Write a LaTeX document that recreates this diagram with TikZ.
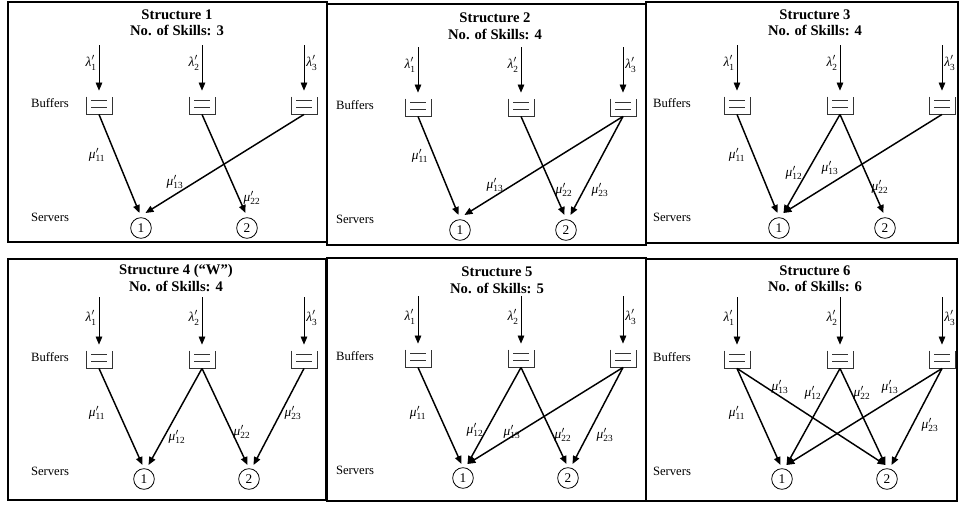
\documentclass[tikz,border=0pt]{standalone}
\usepackage{fontspec}
\setmainfont{Liberation Serif}
\usetikzlibrary{arrows.meta}

% rate labels such as lambda'_1 and mu'_11
\newcommand\rt[2]{$\mbox{\itshape #1}'_{\mbox{\fontsize{7}{8}\selectfont #2}}$}

% vertical layout of one row of panels (local pixel units, y downwards)
\newcommand\setrow[9]{%
  \def\lyA{#1}% arrival arrow top
  \def\lyL{#2}% arrival label
  \def\lyBT{#3}% buffer top
  \def\lyBB{#4}% buffer bottom
  \def\lyBL{#5}% "Buffers"
  \def\lySL{#6}% "Servers"
  \def\lyC{#7}% server centre
  \def\lyT{#8}% tip of service arrows
  \def\cxA{#9}}
\newcommand\cxsecond[1]{\def\cxB{#1}}

\tikzset{
  panel/.style={draw, line width=1.1pt},
  title/.style={font=\fontsize{11}{13}\selectfont\bfseries, inner sep=0pt},
  side/.style={font=\fontsize{9.5}{11}\selectfont, inner sep=0pt},
  rate/.style={font=\fontsize{10}{12}\selectfont, inner sep=0pt},
  server/.style={circle, draw, line width=0.6pt, minimum size=15.5pt,
    inner sep=0pt, font=\fontsize{10}{12}\selectfont},
  buffer/.style={minimum width=19pt, minimum height=13pt, inner sep=0pt},
  bufline/.style={line width=0.6pt, draw=black!80},
  arrival/.style={line width=0.5pt, -{Triangle[length=6pt,width=5pt]}, shorten >=4.5pt},
  flow/.style={line width=1.1pt, -{Triangle[length=6pt,width=5pt]}},
}

% frame, buffers, arrivals and servers of one panel; #4 = x of the side labels
\newcommand\skillpanel[4]{%
  \draw[panel] (0,0) rectangle (#2,#3);
  \node[side] (#1buf) at (#4,\lyBL) {Buffers};
  \node[side] (#1srv) at (#4,\lySL) {Servers};
  \foreach \k/\x in {1/91,2/194,3/296}{
    \coordinate (#1a\k) at (\x,\lyA);
    \node[buffer] (#1b\k) at (\x,{(\lyBT+\lyBB)/2}) {};
    \draw[bufline] (#1b\k.north west) -- (#1b\k.south west)
      -- (#1b\k.south east) -- (#1b\k.north east);
    \draw[bufline] ([shift={(5,3.5)}]#1b\k.north west) -- ([shift={(-5,3.5)}]#1b\k.north east);
    \draw[bufline] ([shift={(5,11)}]#1b\k.north west) -- ([shift={(-5,11)}]#1b\k.north east);
    \draw[arrival] (#1a\k) -- (#1b\k.north);
  }
  \node[rate, anchor=east] (#1l1) at (89,\lyL) {\rt{λ}{1}};
  \node[rate, anchor=east] (#1l2) at (192,\lyL) {\rt{λ}{2}};
  \node[rate, anchor=west] (#1l3) at (298,\lyL) {\rt{λ}{3}};
  \node[server] (#1c1) at (\cxA,\lyC) {1};
  \node[server] (#1c2) at (\cxB,\lyC) {2};
  \coordinate (#1c1l) at ({\cxA-1.5},\lyT);
  \coordinate (#1c1r) at ({\cxA+4.5},\lyT);
  \coordinate (#1c2l) at ({\cxB-1.5},\lyT);
  \coordinate (#1c2r) at ({\cxB+4.5},\lyT);
}

\begin{document}
\begin{tikzpicture}[x=0.75pt, y=-0.75pt]
\useasboundingbox (0,0) rectangle (961,504);

% ---------------- top row ----------------
\setrow{43}{61}{95}{112}{101}{215}{226}{211}{133}\cxsecond{239}

\begin{scope}[shift={(8,2)}]
  \skillpanel{p}{319}{240}{42}
  \node[title] (pt1) at (169,12.5) {Structure 1};
  \node[title] (pt2) at (169,28.5) {No. of Skills: 3};
  \draw[flow] (pb1.south) -- (pc1l);
  \draw[flow] (pb3.south) -- (pc1r);
  \draw[flow] (pb2.south) -- (pc2l);
  \node[rate] (pm11) at (89,153) {\rt{μ}{11}};
  \node[rate] (pm13) at (167,180) {\rt{μ}{13}};
  \node[rate] (pm22) at (244,196) {\rt{μ}{22}};
\end{scope}

\begin{scope}[shift={(327,4)}]
  \skillpanel{q}{319}{241}{28}
  \node[title] (qt1) at (168,14) {Structure 2};
  \node[title] (qt2) at (168,30) {No. of Skills: 4};
  \draw[flow] (qb1.south) -- (qc1l);
  \draw[flow] (qb3.south) -- (qc1r);
  \draw[flow] (qb2.south) -- (qc2l);
  \draw[flow] (qb3.south) -- (qc2r);
  \node[rate] (qm11) at (93,152) {\rt{μ}{11}};
  \node[rate] (qm13) at (168,181) {\rt{μ}{13}};
  \node[rate] (qm22) at (237,186) {\rt{μ}{22}};
  \node[rate] (qm23) at (273,186) {\rt{μ}{23}};
\end{scope}

\begin{scope}[shift={(646,2)}]
  \skillpanel{r}{312}{241}{26}
  \node[title] (rt1) at (169,12.5) {Structure 3};
  \node[title] (rt2) at (169,28.5) {No. of Skills: 4};
  \draw[flow] (rb1.south) -- (rc1l);
  \draw[flow] (rb2.south) -- (rc1r);
  \draw[flow] (rb3.south) -- (rc1r);
  \draw[flow] (rb2.south) -- (rc2l);
  \node[rate] (rm11) at (91,153) {\rt{μ}{11}};
  \node[rate] (rm12) at (148,171) {\rt{μ}{12}};
  \node[rate] (rm13) at (184,166) {\rt{μ}{13}};
  \node[rate] (rm22) at (234,185) {\rt{μ}{22}};
\end{scope}

% ---------------- bottom row ----------------
\setrow{38}{59}{92}{109}{98}{212}{220}{206}{136}\cxsecond{241}

\begin{scope}[shift={(8,259)}]
  \skillpanel{s}{318}{241}{42}
  \node[title] (st1) at (168,11.5) {Structure 4 (“W”)};
  \node[title] (st2) at (168,27.5) {No. of Skills: 4};
  \draw[flow] (sb1.south) -- (sc1l);
  \draw[flow] (sb2.south) -- (sc1r);
  \draw[flow] (sb2.south) -- (sc2l);
  \draw[flow] (sb3.south) -- (sc2r);
  \node[rate] (sm11) at (89,154) {\rt{μ}{11}};
  \node[rate] (sm12) at (169,178) {\rt{μ}{12}};
  \node[rate] (sm22) at (234,173) {\rt{μ}{22}};
  \node[rate] (sm23) at (285,154) {\rt{μ}{23}};
\end{scope}

\begin{scope}[shift={(327,258)}]
  \skillpanel{t}{319}{243}{28}
  \node[title] (tt1) at (170,14) {Structure 5};
  \node[title] (tt2) at (170,30) {No. of Skills: 5};
  \draw[flow] (tb1.south) -- (tc1l);
  \draw[flow] (tb2.south) -- (tc1r);
  \draw[flow] (tb3.south) -- (tc1r);
  \draw[flow] (tb2.south) -- (tc2l);
  \draw[flow] (tb3.south) -- (tc2r);
  \node[rate] (tm11) at (91,155) {\rt{μ}{11}};
  \node[rate] (tm12) at (148,172) {\rt{μ}{12}};
  \node[rate] (tm13) at (185,174) {\rt{μ}{13}};
  \node[rate] (tm22) at (236,177) {\rt{μ}{22}};
  \node[rate] (tm23) at (278,177) {\rt{μ}{23}};
\end{scope}

\begin{scope}[shift={(646,259)}]
  \skillpanel{u}{311}{242}{26}
  \node[title] (ut1) at (169,11.5) {Structure 6};
  \node[title] (ut2) at (169,27.5) {No. of Skills: 6};
  \draw[flow] (ub1.south) -- (uc1l);
  \draw[flow] (ub1.south) -- (uc2l);
  \draw[flow] (ub2.south) -- (uc1r);
  \draw[flow] (ub2.south) -- (uc2l);
  \draw[flow] (ub3.south) -- (uc1r);
  \draw[flow] (ub3.south) -- (uc2r);
  \node[rate] (um11) at (91,154) {\rt{μ}{11}};
  \node[rate] (um13a) at (134,128) {\rt{μ}{13}};
  \node[rate] (um12) at (167,134) {\rt{μ}{12}};
  \node[rate] (um22) at (216,134) {\rt{μ}{22}};
  \node[rate] (um13b) at (244,128) {\rt{μ}{13}};
  \node[rate] (um23) at (284,166) {\rt{μ}{23}};
\end{scope}
\end{tikzpicture}
\end{document}
